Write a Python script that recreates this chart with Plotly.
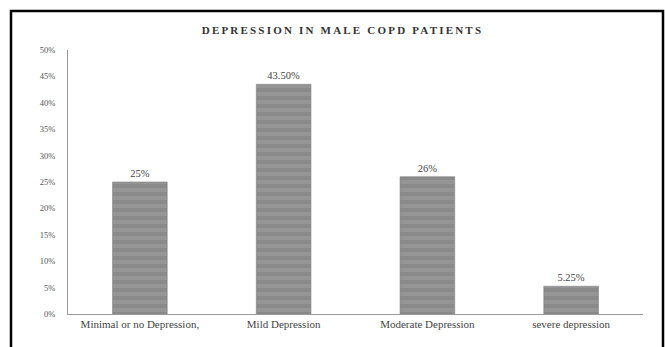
import plotly.graph_objects as go

categories = ["Minimal or no Depression,", "Mild Depression", "Moderate Depression", "severe depression"]
values = [25, 43.5, 26, 5.25]
value_labels = ["25%", "43.50%", "26%", "5.25%"]
tick_vals = [0, 5, 10, 15, 20, 25, 30, 35, 40, 45, 50]
tick_text = ["0%", "5%", "10%", "15%", "20%", "25%", "30%", "35%", "40%", "45%", "50%"]
title_text = "DEPRESSION IN MALE COPD PATIENTS"

FONT = "Liberation Serif"

fig = go.Figure(go.Bar(
    x=categories,
    y=values,
    text=value_labels,
    textposition="outside",
    textfont=dict(family=FONT, size=10.5, color="#444444"),
    cliponaxis=False,
    marker=dict(
        color="#8e8e8e",
        line=dict(color="#808080", width=0.6),
        pattern=dict(shape="-", size=8, solidity=0.5,
                     fgcolor="#a0a0a0", bgcolor="#8a8a8a"),
    ),
    width=0.38,
))

fig.update_layout(
    width=665, height=347,
    margin=dict(l=68, r=22, t=50, b=33),
    paper_bgcolor="white", plot_bgcolor="white",
    showlegend=False,
    title=dict(text='<span style="letter-spacing:2.2px">' + title_text + '</span>',
               x=0.515, xanchor="center", y=1 - 30 / 347, yanchor="middle",
               font=dict(family=FONT, size=11, color="#333333", weight="bold")),
    font=dict(family=FONT, color="#444444"),
    xaxis=dict(
        showline=True, linecolor="#9a9a9a", linewidth=1,
        showgrid=False, ticks="", tickfont=dict(family=FONT, size=11, color="#444444"),
        fixedrange=True,
    ),
    yaxis=dict(
        range=[0, 50], tickvals=tick_vals, ticktext=tick_text,
        showline=True, linecolor="#9a9a9a", linewidth=1,
        showgrid=False, zeroline=False, ticks="",
        tickfont=dict(family=FONT, size=8.5, color="#555555"),
        ticklabelstandoff=10,
        fixedrange=True,
    ),
    shapes=[dict(
        type="rect", xref="paper", yref="paper",
        x0=(11 - 68) / 575, x1=(663 - 68) / 575,
        y0=-0.3, y1=(314 - 11) / 264,
        line=dict(color="black", width=2.5), fillcolor="rgba(0,0,0,0)",
    )],
)

fig.write_html("out.html")
